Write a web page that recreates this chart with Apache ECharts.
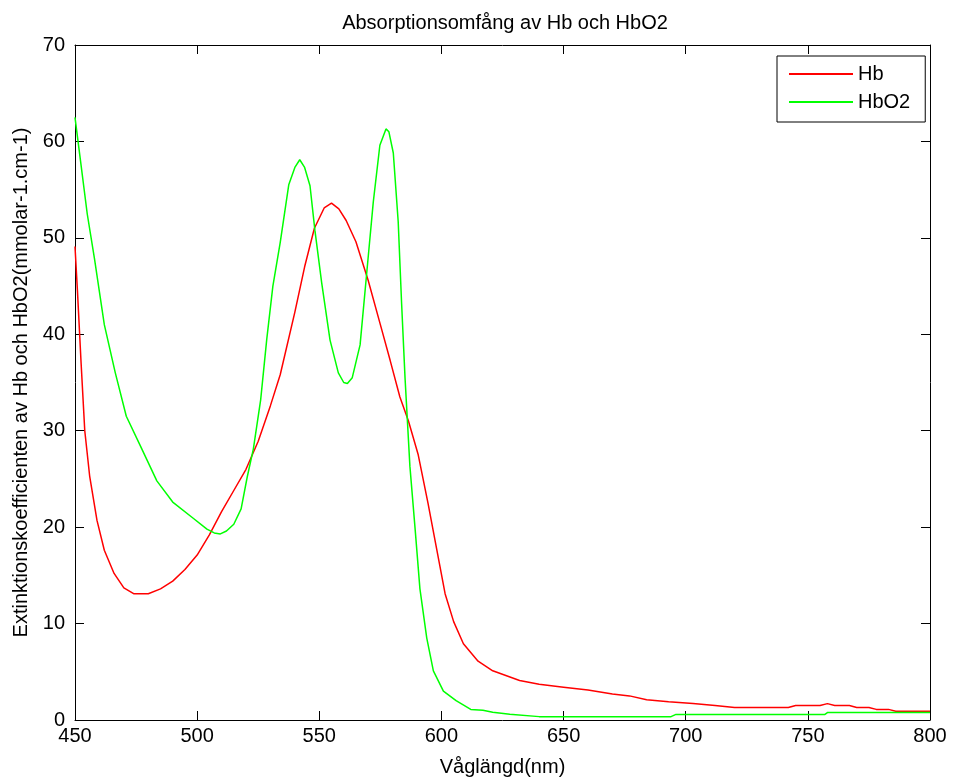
<!DOCTYPE html>
<html>
<head>
<meta charset="utf-8">
<script src="https://cdn.jsdelivr.net/npm/echarts@6/dist/echarts.min.js"></script>
<style>
html,body{margin:0;padding:0;background:#fff;}
#chart{width:953px;height:782px;}
</style>
</head>
<body>
<div id="chart"></div>
<script>
const titleText = 'Absorptionsomfång av Hb och HbO2';
const xName = 'Våglängd(nm)';
const yName = 'Extinktionskoefficienten av Hb och HbO2(mmolar-1.cm-1)';
const seriesNames = ['Hb', 'HbO2'];

const hbWavelength = [450,451,452.5,454,456,459,462,466,470,474,480,485,490,495,500,505,510,515,520,525,530,534,540,544,548,552,555,558,561,565,570,575,579,583,586.5,590.5,594.5,598,601.5,605,609,615,621,632,640,650,660,670,677,684,693,703,712,720,742,745,755,758,761,767,770,775,778,783,786,800];
const hbValues = [49.1,44.5,37,30,25.3,20.7,17.6,15.2,13.7,13.1,13.1,13.6,14.4,15.6,17.1,19.2,21.6,23.8,26.0,28.9,32.6,35.8,42.3,47.0,51.0,53.1,53.6,53.0,51.8,49.6,45.6,41.0,37.3,33.5,31.0,27.5,22.5,17.8,13.1,10.2,7.9,6.1,5.1,4.1,3.7,3.4,3.1,2.7,2.5,2.1,1.9,1.7,1.5,1.3,1.3,1.5,1.5,1.7,1.5,1.5,1.3,1.3,1.1,1.1,0.9,0.9];

const hbo2Wavelength = [450,452,455,458,462,466.5,471,477,483.5,490,498,504,507,509.5,512,515,518,520.5,523,526,528.5,531,534,537.5,540,542,544,546.2,548.2,551,554.4,557.8,560,561.5,563.5,566.7,569.4,572.1,574.8,577.3,578.5,580.3,582.3,583.7,585.1,587.1,589.2,591.2,594,596.7,600.8,606,612,617,621,628,640,694,696,757,758,800];
const hbo2Values = [62.5,58.5,52.5,47.8,41,36,31.5,28.3,24.8,22.6,21,19.8,19.4,19.3,19.6,20.3,21.9,25.2,28.1,33.2,39.5,45,49.5,55.5,57.3,58.1,57.3,55.4,50.8,45.3,39.4,36,35,34.9,35.5,38.9,46.3,53.7,59.6,61.3,61,58.8,51.7,43.2,35.5,26.3,19.9,13.6,8.5,5.1,3.0,2.0,1.1,1.0,0.8,0.6,0.35,0.35,0.58,0.58,0.77,0.77];

const toPairs = (xs, ys) => xs.map((x, i) => [x, ys[i]]);

const FONT = 'Liberation Sans, Arial, sans-serif';
const chart = echarts.init(document.getElementById('chart'));

const axisCommon = {
  axisLine: { show: true, onZero: false, lineStyle: { color: '#000', width: 1 } },
  axisTick: { show: true, inside: true, length: 9, lineStyle: { color: '#000', width: 1 } },
  splitLine: { show: false }
};

chart.setOption({
  animation: false,
  backgroundColor: '#fff',
  title: {
    text: titleText,
    left: 500, top: 8, textAlign: 'center',
    textStyle: { fontFamily: FONT, fontSize: 20, fontWeight: 'normal', color: '#000' }
  },
  legend: {
    orient: 'vertical',
    left: 777, top: 56,
    padding: [8, 15, 10, 12],
    icon: 'rect',
    itemWidth: 64, itemHeight: 2, itemGap: 8,
    backgroundColor: '#fff', borderColor: '#000', borderWidth: 1,
    textStyle: { fontFamily: FONT, fontSize: 20, color: '#000', lineHeight: 20 },
    data: seriesNames
  },
  grid: { left: 75, right: 23, top: 45, bottom: 61, containLabel: false },
  xAxis: [
    Object.assign({}, axisCommon, {
      type: 'value', min: 450, max: 800, interval: 50, position: 'bottom',
      name: xName, nameLocation: 'middle', nameGap: 37,
      nameTextStyle: { fontFamily: FONT, fontSize: 20, color: '#000' },
      axisLabel: { fontFamily: FONT, fontSize: 20, color: '#000', margin: 6, showMinLabel: true, showMaxLabel: true }
    }),
    Object.assign({}, axisCommon, {
      type: 'value', min: 450, max: 800, interval: 50, position: 'top',
      axisLabel: { show: false }
    })
  ],
  yAxis: [
    Object.assign({}, axisCommon, {
      type: 'value', min: 0, max: 70, interval: 10, position: 'left',
      name: yName, nameLocation: 'middle', nameGap: 44, nameRotate: 90,
      nameTextStyle: { fontFamily: FONT, fontSize: 20, color: '#000' },
      axisLabel: { fontFamily: FONT, fontSize: 20, color: '#000', margin: 10 }
    }),
    Object.assign({}, axisCommon, {
      type: 'value', min: 0, max: 70, interval: 10, position: 'right',
      axisLabel: { show: false }
    })
  ],
  series: [
    {
      name: seriesNames[0], type: 'line', xAxisIndex: 0, yAxisIndex: 0,
      data: toPairs(hbWavelength, hbValues),
      showSymbol: false, symbol: 'none', smooth: false,
      lineStyle: { color: '#ff0000', width: 1.5 }, itemStyle: { color: '#ff0000' }
    },
    {
      name: seriesNames[1], type: 'line', xAxisIndex: 0, yAxisIndex: 0,
      data: toPairs(hbo2Wavelength, hbo2Values),
      showSymbol: false, symbol: 'none', smooth: false,
      lineStyle: { color: '#00ff00', width: 1.5 }, itemStyle: { color: '#00ff00' }
    }
  ]
});
</script>
</body>
</html>
